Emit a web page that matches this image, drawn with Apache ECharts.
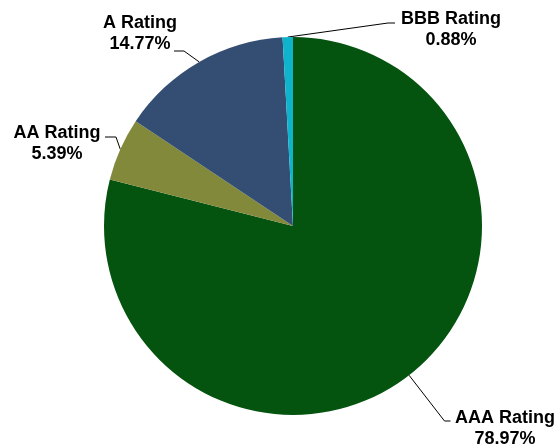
<!DOCTYPE html>
<html>
<head>
<meta charset="utf-8">
<script src="https://cdn.jsdelivr.net/npm/echarts@6/dist/echarts.min.js"></script>
<style>html,body{margin:0;padding:0;background:#fff;}#c{width:560px;height:445px;}</style>
</head>
<body>
<div id="c"></div>
<script>
const categories = ['AAA Rating', 'AA Rating', 'A Rating', 'BBB Rating'];
const values = [78.97, 5.39, 14.77, 0.88];
const colors = ['#04530F', '#83893B', '#344E73', '#0FB4CC'];

// label placement: [centerX, centerY, side(+1 text right of line / -1 left), attachDy, gap, len2]
const labelPlace = {
  'AAA Rating': [505, 428.5, 1, -7.5, 4.5, 6],
  'AA Rating': [57, 143.5, -1, -6.5, 4.5, 11],
  'A Rating': [140, 33.5, -1, 17.5, -3, 10],
  'BBB Rating': [451, 29.5, 1, -6.5, 6, 7]
};

const chart = echarts.init(document.getElementById('c'), null, {renderer: 'canvas'});
chart.setOption({
  animation: false,
  series: [{
    type: 'pie',
    center: [293, 226],
    radius: 189,
    startAngle: 90,
    clockwise: true,
    avoidLabelOverlap: false,
    data: categories.map((n, i) => ({name: n, value: values[i], itemStyle: {color: colors[i]}})),
    itemStyle: {borderWidth: 0},
    label: {
      show: true,
      position: 'outside',
      formatter: p => p.name + '\n' + p.value.toFixed(2) + '%',
      fontFamily: 'Liberation Sans, Arial, sans-serif',
      fontWeight: 'bold',
      fontSize: 18,
      lineHeight: 21,
      color: '#000'
    },
    labelLine: {show: true, length: 20, length2: 10, lineStyle: {color: '#000', width: 1}},
    labelLayout: function (params) {
      const cfg = labelPlace[params.text.split('\n')[0]];
      if (!cfg) return {};
      const [cx, cy, side, dy, gap, len2] = cfg;
      const w = params.labelRect.width;
      const p0 = params.labelLinePoints ? params.labelLinePoints[0] : null;
      const p2x = side > 0 ? cx - w / 2 - gap : cx + w / 2 + gap;
      const p2 = [p2x, cy + dy];
      const p1 = [side > 0 ? p2x - len2 : p2x + len2, cy + dy];
      const out = {x: cx, y: cy, align: 'center', verticalAlign: 'middle'};
      if (p0) out.labelLinePoints = [p0, p1, p2];
      return out;
    }
  }]
});
</script>
</body>
</html>
